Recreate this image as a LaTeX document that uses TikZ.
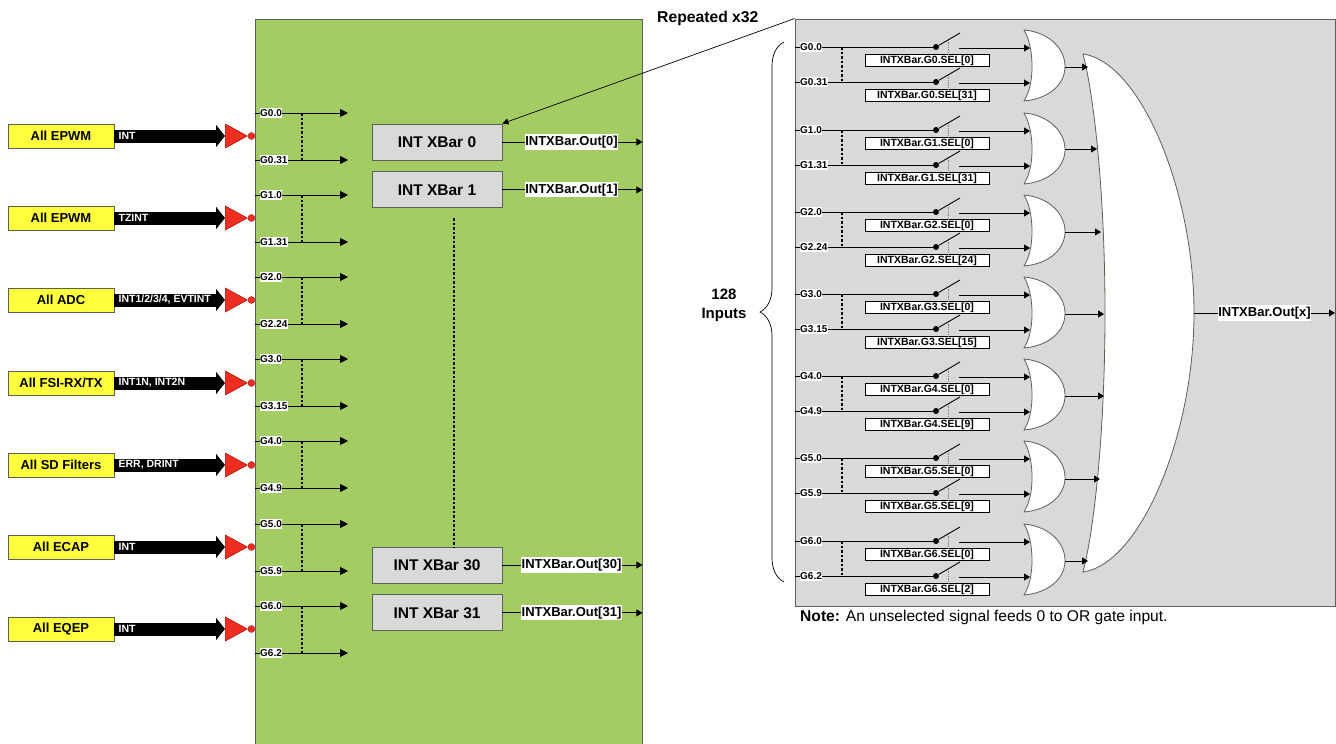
\documentclass[tikz,border=0pt]{standalone}
\usepackage{fontspec}
\setmainfont{Liberation Sans}
\usetikzlibrary{arrows.meta,calc,positioning,shapes.geometric,decorations.pathreplacing}
\definecolor{leafgreen}{rgb}{0.64,0.80,0.39}
\definecolor{panelgray}{rgb}{0.85,0.85,0.85}
\definecolor{signyellow}{rgb}{1.00,1.00,0.24}
\definecolor{invred}{rgb}{0.93,0.18,0.13}
\definecolor{edgegray}{rgb}{0.35,0.38,0.33}
\tikzset{
  area/.style={
    draw=edgegray,
    line width=.9pt,
    inner sep=0pt
  },
  source/.style={
    draw=edgegray,
    line width=.9pt,
    fill=signyellow,
    minimum width=106pt,
    minimum height=24pt,
    inner sep=0pt,
    font=\fontsize{13}{15}\selectfont\bfseries
  },
  buslabel/.style={
    text=white,
    inner sep=0pt,
    font=\fontsize{10.5}{12}\selectfont\bfseries
  },
  inverter/.style={
    isosceles triangle,
    isosceles triangle stretches,
    shape border rotate=0,
    draw=invred!70!black,
    line width=.4pt,
    fill=invred,
    minimum width=24pt,
    minimum height=22pt,
    inner sep=0pt
  },
  invdot/.style={
    circle,
    draw=invred!70!black,
    line width=.4pt,
    fill=invred,
    minimum size=7pt,
    inner sep=0pt
  },
  xbar/.style={
    draw=edgegray,
    line width=.9pt,
    fill=panelgray,
    minimum width=130pt,
    minimum height=36pt,
    inner sep=0pt,
    font=\fontsize{15.5}{17}\selectfont\bfseries
  },
  siglabel/.style={
    fill=white,
    inner xsep=.5pt,
    inner ysep=1pt,
    font=\fontsize{10}{11}\selectfont\bfseries
  },
  outlabel/.style={
    fill=white,
    inner xsep=.5pt,
    inner ysep=1.5pt,
    font=\fontsize{13}{14}\selectfont\bfseries
  },
  selbox/.style={
    draw=black,
    line width=.7pt,
    fill=white,
    minimum width=124pt,
    minimum height=12pt,
    inner sep=0pt,
    text height=7.5pt,
    text depth=1pt,
    font=\fontsize{10.5}{11}\selectfont\bfseries
  },
  swdot/.style={
    circle,
    fill=black,
    minimum size=6pt,
    inner sep=0pt
  },
  orgate/.style={
    draw=edgegray,
    line width=.8pt,
    fill=white
  },
  wire/.style={
    line width=.9pt
  },
  arrow/.style={
    -{Triangle[length=8pt,width=8pt]},
    line width=.9pt
  },
  smallarrow/.style={
    -{Triangle[length=6pt,width=7pt]},
    line width=.9pt
  },
  busarrow/.style={
    -{Triangle[length=9pt,width=22pt]},
    line width=13pt
  },
  dots/.style={
    line width=1.6pt,
    dash pattern=on 2.5pt off 2pt
  },
  title/.style={
    inner sep=0pt,
    align=center,
    font=\fontsize{15}{19}\selectfont\bfseries
  }
}
\begin{document}
\begin{tikzpicture}[x=1pt,y=-1pt]
\useasboundingbox (0,0) rectangle (1336,744);
\node[area,fill=leafgreen,minimum width=387pt,minimum height=735pt] (block) at (448.5,386.5) {};
\node[area,fill=panelgray,minimum width=540pt,minimum height=587pt] (panel) at (1065,312.5) {};

\foreach \s/\t/\y [count=\n] in {All EPWM/INT/136,All EPWM/TZINT/218,All ADC/{INT1/2/3/4, EVTINT}/300,{All FSI-RX/TX}/{INT1N, INT2N}/383,All SD Filters/{ERR, DRINT}/465,All ECAP/INT/547,All EQEP/INT/629}{
  \node[source] (src\n) at (61,\y) {\s};
  \node[inverter,anchor=west] (inv\n) at (225,\y) {};
  \node[invdot,right=0pt of inv\n] (dot\n) {};
  \draw[busarrow] (src\n.east) -- (inv\n.west);
  \node[inverter,anchor=west] at (225,\y) {};
  \node[buslabel,right=4pt of src\n] (bus\n) {\t};
}

\foreach \i/\hi/\y in {0/31/113,1/31/195,2/24/277,3/15/359,4/9/441,5/9/524,6/2/606}{
  \coordinate (ga\i) at (255,\y);
  \coordinate (gb\i) at (255,\y+47);
  \coordinate (ea\i) at (348,\y);
  \coordinate (eb\i) at (348,\y+47);
  \draw[arrow] (ga\i) -- (ea\i);
  \draw[arrow] (gb\i) -- (eb\i);
  \node[siglabel,anchor=west] (la\i) at (259.5,\y) {G\i.0};
  \node[siglabel,anchor=west] (lb\i) at (259.5,\y+47) {G\i.\hi};
  \coordinate (da\i) at (302,\y);
  \coordinate (db\i) at (302,\y+47);
  \draw[dots] (da\i) -- (db\i);
}

\node[xbar] (x0) at (437,142) {INT XBar 0};
\node[xbar,below=11pt of x0] (x1) {INT XBar 1};
\node[xbar] (x30) at (437,565) {INT XBar 30};
\node[xbar,below=11pt of x30] (x31) {INT XBar 31};
\coordinate (gap) at (454,218);
\draw[dots] (gap) -- (gap |- x30.north);
\foreach \k in {0,1,30,31}{
  \coordinate (out\k) at (x\k.east -| block.east);
  \draw[smallarrow] (x\k) -- (out\k);
  \node[outlabel] (lab\k) at (571.5,0 |- x\k) {INTXBar.Out[\k]};
}

\foreach \i/\hi/\y in {0/31/47,1/31/130,2/24/212,3/15/294,4/9/376,5/9/458,6/2/541}{
  \draw[orgate] (1024,\y-17) .. controls (1048,\y-15) and (1065,\y+1) .. (1065,\y+19.5)
    .. controls (1065,\y+38) and (1048,\y+52) .. (1024,\y+54)
    .. controls (1030,\y+44) and (1032,\y+32) .. (1032,\y+19.5)
    .. controls (1032,\y+7) and (1030,\y-7) .. cycle;
  \foreach \j/\s/\d in {a/0/0,b/\hi/35}{
    \coordinate (in\i\j) at (795,\y+\d);
    \node[swdot] (sw\i\j) at (936,\y+\d) {};
    \coordinate (tip\i\j) at (960,\y+\d-14);
    \coordinate (mid\i\j) at ($(sw\i\j)!.5!(tip\i\j)$);
    \node[selbox] (sel\i\j) at (927,\y+\d+13) {INTXBar.G\i.SEL[\s]};
    \draw[wire] (in\i\j) -- (sw\i\j);
    \draw[wire] (sw\i\j) -- (tip\i\j);
    \draw[gray,line width=.7pt,densely dotted] (mid\i\j) -- (mid\i\j |- sel\i\j.north);
    \coordinate (from\i\j) at (959,\y+\d+1);
    \coordinate (to\i\j) at (1030,\y+\d+1);
    \draw[smallarrow] (from\i\j) -- (to\i\j);
    \node[siglabel,anchor=west] (name\i\j) at (799.5,\y+\d) {G\i.\s};
  }
  \coordinate (da\i) at (842,\y);
  \coordinate (db\i) at (842,\y+35);
  \draw[dots] (da\i) -- (db\i);
}

\draw[orgate] (1083,54) .. controls (1140,62) and (1194,190) .. (1194,313)
  .. controls (1194,436) and (1140,564) .. (1083,572)
  .. controls (1095,526) and (1105,426) .. (1105,313)
  .. controls (1105,200) and (1095,100) .. cycle;
\foreach \i/\y/\e in {0/67/1088,1/149/1097,2/232/1101,3/314/1104,4/396/1104,5/479/1100,6/561/1088}{
  \coordinate (gout\i) at (1065,\y);
  \coordinate (gin\i) at (\e,\y);
  \draw[smallarrow] (gout\i) -- (gin\i);
}
\coordinate (bigout) at (1194,313);
\coordinate (result) at (1335,313);
\draw[smallarrow] (bigout) -- (result);
\node[outlabel] (reslabel) at (1264.5,313) {INTXBar.Out[x]};

\coordinate (rep) at (panel.north west);
\draw[-{Triangle[length=6pt,width=6pt]},line width=.7pt] (rep) -- (x0.north east);
\node[title,anchor=west,font=\fontsize{15.7}{19}\selectfont\bfseries] (repeated) at (657,18) {Repeated x32};
\node[title] (inputs) at (724,305.5) {128\\Inputs};
\coordinate (bracelow) at (784,582);
\coordinate (bracehigh) at (784,42);
\draw[line width=.7pt,decorate,decoration={brace,amplitude=24pt}] (bracelow) -- (bracehigh);
\node[anchor=west,inner sep=0pt,font=\fontsize{15.6}{17}\selectfont] (note) at (800,617) {\textbf{Note:} An unselected signal feeds 0 to OR gate input.};
\end{tikzpicture}
\end{document}
